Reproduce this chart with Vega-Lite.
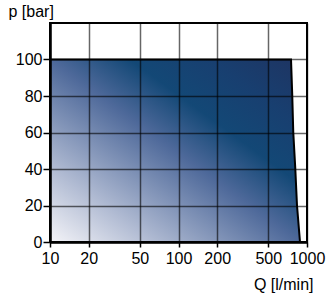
{
  "$schema": "https://vega.github.io/schema/vega-lite/v6.json",
  "width": 257,
  "height": 219,
  "autosize": {"type": "none"},
  "padding": {"left": 50, "top": 23, "right": 19, "bottom": 59},
  "background": "white",
  "config": {
    "view": {"stroke": "black", "strokeWidth": 2},
    "font": "Liberation Sans",
    "axis": {
      "domainColor": "black",
      "domainWidth": 2.5,
      "tickColor": "black",
      "tickWidth": 1.5,
      "gridColor": "black",
      "gridOpacity": 0.6,
      "gridWidth": 1.5,
      "labelFont": "Liberation Sans",
      "labelFontSize": 16,
      "labelColor": "black",
      "titleFont": "Liberation Sans",
      "titleFontSize": 16,
      "titleFontWeight": "normal",
      "titleColor": "black"
    }
  },
  "data": {
    "values": [
      {"Q": 10, "p": 100},
      {"Q": 751, "p": 100},
      {"Q": 768, "p": 80},
      {"Q": 782, "p": 60},
      {"Q": 811, "p": 40},
      {"Q": 836, "p": 20},
      {"Q": 882, "p": 0}
    ]
  },
  "mark": {
    "type": "area",
    "stroke": "black",
    "strokeWidth": 2,
    "color": {
      "gradient": "linear",
      "x1": 0, "y1": 1, "x2": 1, "y2": 0,
      "stops": [
        {"offset": 0, "color": "#f4f4f8"},
        {"offset": 0.2, "color": "#b3bdd4"},
        {"offset": 0.5, "color": "#4e699a"},
        {"offset": 0.66, "color": "#134876"},
        {"offset": 0.82, "color": "#183f70"},
        {"offset": 1, "color": "#1e3462"}
      ]
    }
  },
  "encoding": {
    "x": {
      "field": "Q",
      "type": "quantitative",
      "scale": {"type": "log", "domain": [10, 1000]},
      "axis": {
        "zindex": 1,
        "values": [10, 20, 50, 100, 200, 500, 1000],
        "format": "d",
        "tickSize": 5,
        "labelPadding": 3,
        "labelFlush": false,
        "title": "Q [l/min]",
        "titleAnchor": "end",
        "titleAlign": "right",
        "titleX": 263,
        "titleY": 47,
        "titleBaseline": "alphabetic"
      }
    },
    "y": {
      "field": "p",
      "type": "quantitative",
      "scale": {"domain": [0, 120]},
      "axis": {
        "zindex": 1,
        "values": [0, 20, 40, 60, 80, 100],
        "tickSize": 7,
        "labelPadding": 1,
        "labelFlush": false,
        "title": "p [bar]",
        "titleAngle": 0,
        "titleAlign": "left",
        "titleX": -42,
        "titleY": -7,
        "titleBaseline": "alphabetic"
      }
    }
  }
}
